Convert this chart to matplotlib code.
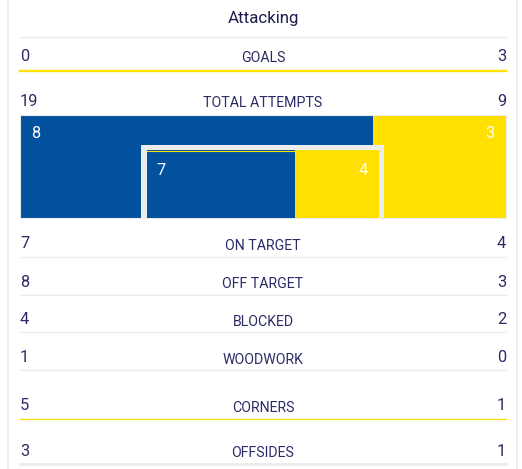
import matplotlib.pyplot as plt
import matplotlib.patches as patches

# match stats
labels = ["GOALS", "TOTAL ATTEMPTS", "ON TARGET", "OFF TARGET", "BLOCKED",
          "WOODWORK", "CORNERS", "OFFSIDES"]
home = [0, 19, 7, 8, 4, 1, 5, 3]
away = [3, 9, 4, 3, 2, 0, 1, 1]

BLUE = "#02519f"
YELLOW = "#ffe000"
TEXT = "#2b2b66"
GREY = "#ebebeb"

plt.rcParams["font.family"] = ["Roboto", "DejaVu Sans"]

fig = plt.figure(figsize=(5.22, 4.69), dpi=100)
ax = fig.add_axes([0, 0, 1, 1])
ax.set_xlim(0, 522)
ax.set_ylim(469, 0)
ax.axis("off")

x0, x1 = 20, 506
xc = 263

# card border
ax.plot([8, 8], [0, 469], color=GREY, lw=1.2)
ax.plot([517, 517], [0, 469], color=GREY, lw=1.2)

ax.text(xc, 23.3, "Attacking", ha="center", va="baseline", fontsize=12.2, color="#1c1c4e")
ax.plot([x0, x1], [37, 37], color=GREY, lw=1)

# row baselines (numbers, labels) and line below each row
num_base = [61, 106, 248.3, 286.7, 324.3, 362.3, 410.3, 455.7]
lab_base = [62.3, 107.3, 250, 288, 326, 363.7, 411.7, 457]
under = [70.8, None, 256.7, 294.3, 332, 370, 418.3, 463.7]

for i, lab in enumerate(labels):
    ax.text(x0, num_base[i], str(home[i]), ha="left", va="baseline", fontsize=11.8, color=TEXT)
    ax.text(x1, num_base[i], str(away[i]), ha="right", va="baseline", fontsize=11.8, color=TEXT)
    ax.text(xc, lab_base[i], lab, ha="center", va="baseline", fontsize=10.2, color=TEXT)

# grey separators
for i, y in enumerate(under):
    if y is None or i == 0:
        continue
    if i == len(labels) - 1:
        ax.plot([x0, x1], [y, y], color=GREY, lw=2)
    else:
        ax.plot([x0, x1], [y + 0.5, y + 0.5], color=GREY, lw=1)

# yellow lines where the away side leads in that stat
ax.plot([x0, x1], [under[0], under[0]], color=YELLOW, lw=1.7)
ax.plot([x0, x1], [under[6] + 1.2, under[6] + 1.2], color=YELLOW, lw=0.9)

# shot map: outer = off target, inner goal frame = on target
off_h, off_a = home[3], away[3]
on_h, on_a = home[2], away[2]

top, bottom = 114.7, 218.3
w = x1 - x0
split = w * off_h / (off_h + off_a)
ax.barh((top + bottom) / 2, split, left=x0, height=bottom - top, color=BLUE, edgecolor="none")
ax.barh((top + bottom) / 2, w - split, left=x0 + split, height=bottom - top, color=YELLOW, edgecolor="none")
ax.add_patch(patches.Rectangle((x0, top), w, bottom - top, fill=False, edgecolor=GREY, lw=0.8))

# goal frame
fx0, fx1, ftop = 141.3, 384.3, 144.7
ax.add_patch(patches.Rectangle((fx0, ftop), fx1 - fx0, bottom - ftop, color="#ececec", lw=0))
ix0, ix1, itop = 146.7, 379, 150.3
iw = ix1 - ix0
isplit = iw * on_h / (on_h + on_a)
ax.barh((itop + bottom) / 2, isplit, left=ix0, height=bottom - itop, color=BLUE, edgecolor="none")
ax.barh((itop + bottom) / 2, iw - isplit, left=ix0 + isplit, height=bottom - itop, color=YELLOW, edgecolor="none")
ax.plot([ix0, ix1], [itop + 0.4, itop + 0.4], color=YELLOW, lw=0.8)

ax.text(31, 138, str(off_h), ha="left", va="baseline", fontsize=11.8, color="white")
ax.text(494, 138, str(off_a), ha="right", va="baseline", fontsize=11.8, color="white")
ax.text(156, 174.7, str(on_h), ha="left", va="baseline", fontsize=11.8, color="white")
ax.text(367.7, 174.7, str(on_a), ha="right", va="baseline", fontsize=11.8, color="white")

fig.savefig("out.png", dpi=100, facecolor="white")
